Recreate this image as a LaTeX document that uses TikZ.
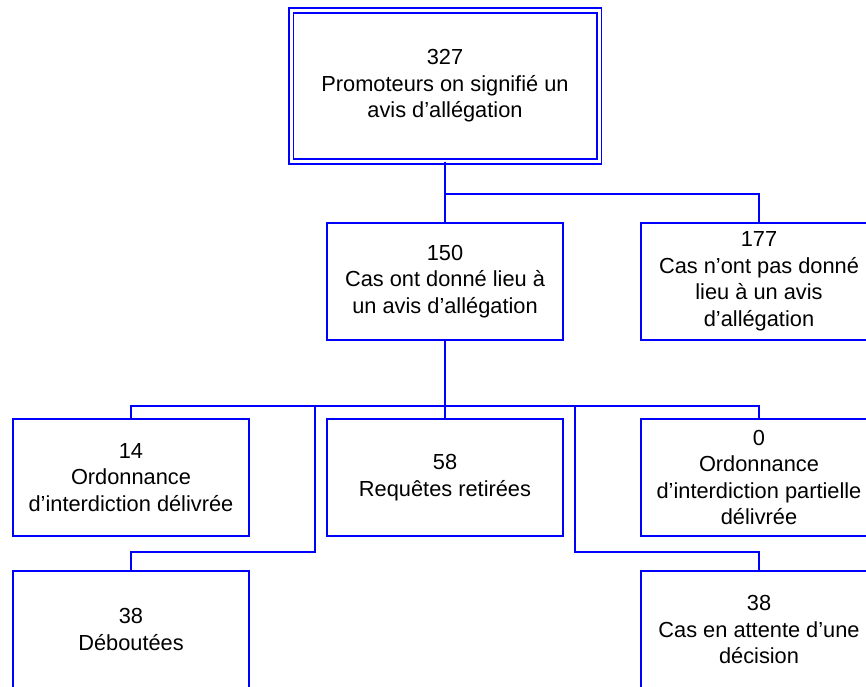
\documentclass[tikz,border=0pt]{standalone}
\usepackage{fontspec}
\setmainfont{Liberation Sans}
\definecolor{chartblue}{RGB}{0,0,255}
\begin{document}
\begin{tikzpicture}[x=1pt,y=-1pt,
  box/.style={draw=chartblue, line width=1.8pt, rectangle, align=center,
    minimum width=236pt, minimum height=117pt, inner sep=0pt, outer sep=0pt,
    font=\fontsize{21.8}{26.5}\selectfont},
  rootbox/.style={box, double=white, double distance=3pt,
    minimum width=308pt, minimum height=151pt},
  link/.style={draw=chartblue, line width=1.8pt}]
  \useasboundingbox (0,0) rectangle (866,686);
  \fill[white] (0,0) rectangle (866,686);
  \clip (0,0) rectangle (866,686);

  % boxes
  \node[rootbox] (root) at (445,86) {327\\Promoteurs on signifié un\\avis d’allégation};
  \node[box] (yes) at (445,281.5) {150\\Cas ont donné lieu à\\un avis d’allégation};
  \node[box] (no) at (759,281.5) {177\\Cas n’ont pas donné\\lieu à un avis\\d’allégation};
  \node[box] (granted) at (131,477.5) {14\\Ordonnance\\d’interdiction délivrée};
  \node[box] (withdrawn) at (445,477.5) {58\\Requêtes retirées};
  \node[box] (partial) at (759,477.5) {0\\Ordonnance\\d’interdiction partielle\\délivrée};
  \node[box] (dismissed) at (131,629.5) {38\\Déboutées};
  \node[box] (pending) at (759,629.5) {38\\Cas en attente d’une\\décision};

  % junction points
  \coordinate (j1) at (445,194);
  \coordinate (j2) at (445,406);
  \coordinate (jl) at (315,406);
  \coordinate (kl) at (315,552);
  \coordinate (jr) at (575,406);
  \coordinate (kr) at (575,552);

  % connectors
  \draw[link] (root.south) -- (yes.north);
  \draw[link] (j1) -| (no.north);
  \draw[link] (yes.south) -- (withdrawn.north);
  \draw[link] (granted.north) |- (j2) -| (partial.north);
  \draw[link] (jl) -- (kl) -| (dismissed.north);
  \draw[link] (jr) -- (kr) -| (pending.north);
\end{tikzpicture}
\end{document}
